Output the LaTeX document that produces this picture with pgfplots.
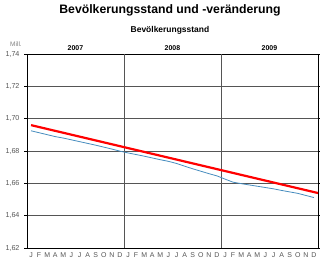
\documentclass[border=0pt]{standalone}
\usepackage{pgfplots}
\pgfplotsset{compat=1.18}
\usepackage{fontspec}
\setmainfont{Liberation Sans}
\definecolor{myblue}{RGB}{70,140,190}
\definecolor{gridgray}{RGB}{85,85,85}
\definecolor{labgray}{RGB}{85,85,85}
\begin{document}
\begin{tikzpicture}[x=1bp,y=1bp]
\path[use as bounding box] (-27,-14) rectangle (293,248);
\begin{axis}[at={(0,0)}, anchor=south west,
  width=291bp, height=194bp, scale only axis,
  xmin=0, xmax=36, ymin=1.62, ymax=1.74,
  ytick={1.62,1.64,...,1.75},
  /pgf/number format/assume math mode=true,
  yticklabel style={/pgf/number format/fixed, /pgf/number format/fixed zerofill, /pgf/number format/precision=2, /pgf/number format/use comma},
  yticklabel style={font=\fontsize{7.2}{8}\selectfont, text=labgray, xshift=-1bp},
  ymajorgrids, major grid style={gridgray, line width=0.7bp},
  xtick={0.5,1.5,...,35.5},
  xticklabels={J,F,M,A,M,J,J,A,S,O,N,D,J,F,M,A,M,J,J,A,S,O,N,D,J,F,M,A,M,J,J,A,S,O,N,D},
  xticklabel style={font=\fontsize{7}{8}\selectfont, text=labgray, text height=5bp, text depth=0bp, inner sep=1bp},
  x tick style={draw=none},
  minor xtick={0,1,...,36},
  minor x tick style={black, line width=0.5bp},
  minor tick length=3bp,
  y tick style={black, line width=0.5bp},
  major tick length=3bp,
  tick align=outside,
  extra x ticks={12,24},
  extra x tick labels={},
  extra x tick style={grid=major, major tick length=0, major grid style={gridgray, line width=0.7bp}},
  axis line style={black, line width=0.9bp},
  clip=false,
]
\addplot[myblue, line width=0.8bp] coordinates {
(0.5,1.6925) (1.5,1.6913) (2.5,1.6901) (3.5,1.6889) (4.5,1.6880) (5.5,1.6869)
(6.5,1.6858) (7.5,1.6847) (8.5,1.6836) (9.5,1.6824) (10.5,1.6812) (11.5,1.6799)
(12.5,1.6788) (13.5,1.6778) (14.5,1.6768) (15.5,1.6757) (16.5,1.6746) (17.5,1.6736)
(18.5,1.6723) (19.5,1.6706) (20.5,1.6690) (21.5,1.6675) (22.5,1.6660) (23.5,1.6646)
(24.5,1.6626) (25.5,1.6607) (26.5,1.6598) (27.5,1.6590) (28.5,1.6582) (29.5,1.6574)
(30.5,1.6566) (31.5,1.6556) (32.5,1.6547) (33.5,1.6538) (34.5,1.6525) (35.5,1.6512)
};
\addplot[red, line width=2.2bp] coordinates {(0.5,1.696) (36,1.654)};
\end{axis}
\node[font=\bfseries\fontsize{12.3}{14}\selectfont] at (143,238) {Bevölkerungsstand und -veränderung};
\node[font=\bfseries\fontsize{8.5}{10}\selectfont] at (143,218) {Bevölkerungsstand};
\node[font=\bfseries\fontsize{7}{8}\selectfont] at (48.5,200) {2007};
\node[font=\bfseries\fontsize{7}{8}\selectfont] at (145.5,200) {2008};
\node[font=\bfseries\fontsize{7}{8}\selectfont] at (242.5,200) {2009};
\node[font=\fontsize{6.5}{7}\selectfont, text=gray] at (-11,204) {Mill.};
\end{tikzpicture}
\end{document}
